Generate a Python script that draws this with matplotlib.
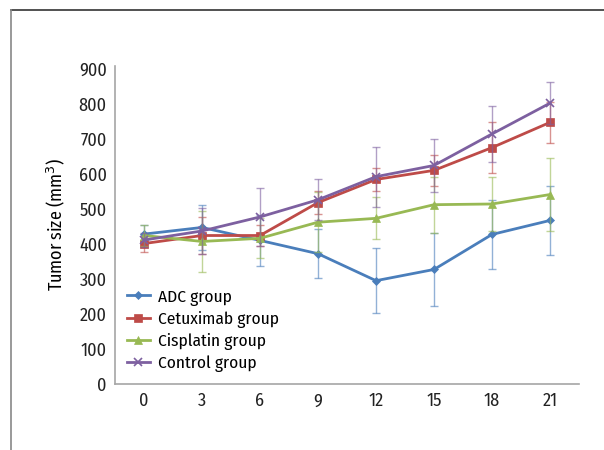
import matplotlib
matplotlib.use("Agg")
import matplotlib.pyplot as plt
from matplotlib.lines import Line2D

plt.rcParams['font.family'] = ['Fira Sans Condensed', 'DejaVu Sans']

days = [0, 3, 6, 9, 12, 15, 18, 21]

adc = [428, 447, 410, 372, 295, 327, 427, 467]
adc_err = [25, 65, 72, 70, 92, 104, 99, 99]
cetux = [401, 424, 424, 518, 584, 610, 675, 747]
cetux_err = [23, 53, 30, 34, 32, 45, 72, 58]
cispl = [424, 407, 416, 462, 473, 512, 514, 541]
cispl_err = [29, 88, 57, 85, 60, 80, 76, 105]
ctrl = [411, 437, 477, 526, 592, 624, 714, 802]
ctrl_err = [20, 65, 82, 58, 86, 75, 80, 59]

labels = ['ADC group', 'Cetuximab group', 'Cisplatin group', 'Control group']
colors = ['#4a7ebb', '#be4b48', '#98b954', '#7d60a0']
markers = ['D', 's', '^', 'x']
msizes = [4, 6, 6, 6]

fig = plt.figure(figsize=(6.04, 4.5), dpi=100)
ax = fig.add_axes([0.1904, 0.1467, 0.7682, 0.7066])

series = [(adc, adc_err), (cetux, cetux_err), (cispl, cispl_err), (ctrl, ctrl_err)]
for (vals, errs), lab, c, m, ms in zip(series, labels, colors, markers, msizes):
    ax.errorbar(days, vals, yerr=errs, fmt='none', ecolor=c, alpha=0.6,
                elinewidth=1, capsize=3, capthick=1)
    ax.plot(days, vals, color=c, marker=m, markersize=ms, linewidth=2,
            markeredgewidth=1.2 if m == 'x' else 0.5, label=lab)

ax.set_xlim(-1.5, 22.5)
ax.set_ylim(0, 908)
ax.set_xticks(days)
ax.set_yticks(range(0, 1000, 100))
ax.tick_params(length=0, labelsize=13, colors='#222222', pad=6)
for s in ['top', 'right']:
    ax.spines[s].set_visible(False)
for s in ['left', 'bottom']:
    ax.spines[s].set_color('#a6a6a6')
    ax.spines[s].set_linewidth(1.2)
ax.set_ylabel('Tumor size (mm$^3$)', fontsize=13, labelpad=8)

leg = ax.legend(loc='lower left', bbox_to_anchor=(0.0, 0.0), frameon=False,
                fontsize=12.5, handlelength=1.3, labelspacing=0.3,
                borderaxespad=0.3, handletextpad=0.5)

# outer frame lines (top and left)
fig.add_artist(Line2D([0.018, 1.0], [0.978, 0.978], color='#333333', lw=1.2))
fig.add_artist(Line2D([0.018, 0.018], [0.0, 0.978], color='#888888', lw=1.2))

fig.savefig('out.png', dpi=100)
